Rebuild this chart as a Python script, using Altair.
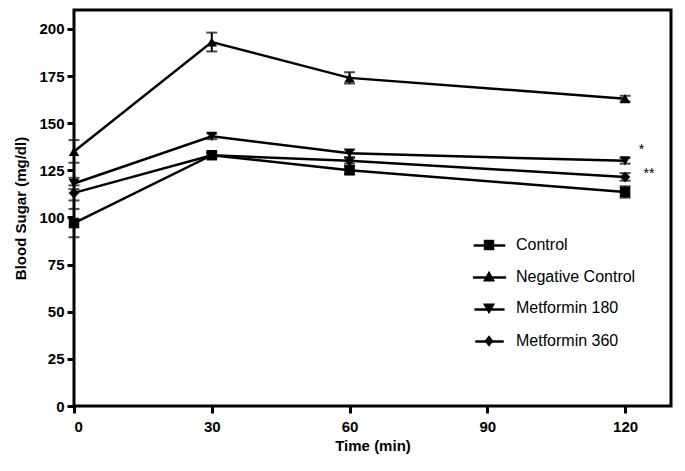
import altair as alt
import pandas as pd

series = ["Control", "Negative Control", "Metformin 180", "Metformin 360"]
times = [0, 30, 60, 120]
control = [97, 133, 125, 113.5]
negative = [135, 193, 174, 163]
met180 = [118, 143, 134, 130]
met360 = [113, 133, 130, 121.5]
err_control = [7.5, 1.5, 2, 3]
err_negative = [6, 5, 3, 1.5]
err_met180 = [3, 1.5, 2, 1.5]
err_met360 = [4, 1.5, 1.5, 2]

marks_text = ["*", "**"]
marks_x = [123, 124]
marks_y = [136, 123]

point_shapes = ["square", "triangle-up", "triangle-down", "diamond"]
legend_line = ["M-1,0H1", "M-1.05,0H1.05", "M-0.95,0H0.95", "M-0.9,0H0.9"]
legend_marks = [
    "M-0.33,-0.33H0.33V0.33H-0.33Z",
    "M0,-0.4L0.38,0.28H-0.38Z",
    "M0,0.4L0.38,-0.28H-0.38Z",
    "M0,-0.36L0.28,0L0,0.36L-0.28,0Z",
]

rows = []
for s, vals, errs in zip(series, [control, negative, met180, met360],
                         [err_control, err_negative, err_met180, err_met360]):
    for t, v, e in zip(times, vals, errs):
        rows.append({"series": s, "time": t, "value": v, "lo": v - e, "hi": v + e})
df = pd.DataFrame(rows)
ann = pd.DataFrame({"t": marks_text, "x": marks_x, "y": marks_y})

FONT = "Liberation Sans"
xs = alt.Scale(domain=[0, 130], nice=False)
ys = alt.Scale(domain=[0, 210], nice=False)

base = alt.Chart(df)

xax = alt.Axis(values=[0, 30, 60, 90, 120], title="Time (min)", grid=False,
               domain=False, tickWidth=3, tickSize=7, tickColor="black",
               labelFont=FONT, labelFontWeight="bold", labelFontSize=15, labelColor="black",
               titleFont=FONT, titleFontWeight="bold", titleFontSize=15, titleColor="black",
               labelPadding=6, titlePadding=4)
yax = alt.Axis(values=list(range(0, 201, 25)), title="Blood Sugar (mg/dl)", grid=False,
               domain=False, tickWidth=3, tickSize=7, tickColor="black",
               labelFont=FONT, labelFontWeight="bold", labelFontSize=15, labelColor="black",
               titleFont=FONT, titleFontWeight="bold", titleFontSize=15, titleColor="black",
               labelPadding=3, titlePadding=10)

lines = base.mark_line(color="black", strokeWidth=2.5).encode(
    x=alt.X("time:Q", scale=xs, axis=xax),
    y=alt.Y("value:Q", scale=ys, axis=yax),
    detail="series:N",
)

rules = base.mark_rule(color="black", strokeWidth=2).encode(
    x="time:Q", y="lo:Q", y2="hi:Q")
cap_lo = base.mark_tick(color="black", thickness=2, size=11, orient="horizontal").encode(
    x="time:Q", y="lo:Q")
cap_hi = base.mark_tick(color="black", thickness=2, size=11, orient="horizontal").encode(
    x="time:Q", y="hi:Q")

points = base.mark_point(filled=True, color="black", opacity=1, size=110).encode(
    x="time:Q", y="value:Q",
    shape=alt.Shape("series:N", scale=alt.Scale(domain=series, range=point_shapes), legend=None),
)

leg_common = dict(title=None, orient="none", legendX=398, legendY=218,
                  symbolSize=1000, symbolOpacity=1, labelFont=FONT, labelFontSize=16,
                  labelColor="black", rowPadding=6, labelOffset=10)

legend_lines = base.mark_point(filled=False, color="black", strokeWidth=2.5,
                               opacity=0, size=10).encode(
    x="time:Q", y="value:Q",
    shape=alt.Shape("series:N", scale=alt.Scale(domain=series, range=legend_line),
                    legend=alt.Legend(symbolStrokeWidth=2.5, symbolStrokeColor="black",
                                      labelOpacity=0, **leg_common)),
)

legend_pts = base.mark_point(filled=True, color="black", opacity=0, size=10).encode(
    x="time:Q", y="value:Q",
    shape=alt.Shape("series:N", scale=alt.Scale(domain=series, range=legend_marks),
                    legend=alt.Legend(symbolFillColor="black", **leg_common)),
)

text = alt.Chart(ann).mark_text(font=FONT, fontSize=14, color="black", align="left",
                                baseline="middle").encode(
    x=alt.X("x:Q", scale=xs), y=alt.Y("y:Q", scale=ys), text="t:N")

chart = alt.layer(lines, rules, cap_lo, cap_hi, points, legend_lines, legend_pts, text).resolve_scale(
    shape="independent"
).properties(
    width=597, height=396, background="white",
    padding={"left": 5, "top": 2, "right": 5, "bottom": 5},
).configure_view(stroke="black", strokeWidth=3).configure_legend(rowPadding=6)

chart.save("out.html", embed_options={"renderer": "svg", "actions": False})
